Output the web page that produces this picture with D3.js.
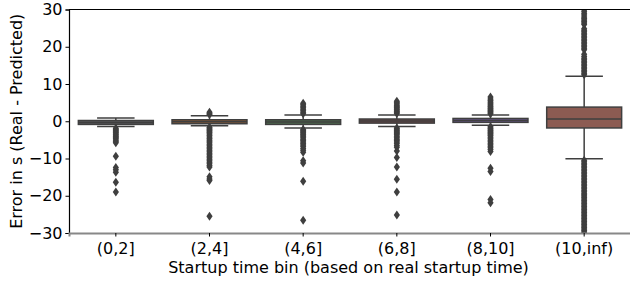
<!DOCTYPE html>
<html>
<head>
<meta charset="utf-8">
<script src="https://cdn.jsdelivr.net/npm/d3@7"></script>
<style>
  body { margin: 0; background: #fff; }
  svg text { font-family: "DejaVu Sans", sans-serif; fill: #000; }
</style>
</head>
<body>
<div id="chart"></div>
<script>
// chart size
var width = 630;
var height = 281;

// bins and box stats
var categories = ["(0,2]", "(2,4]", "(4,6]", "(6,8]", "(8,10]", "(10,inf)"];
var q1 = [-0.85, -0.67, -0.85, -0.5, -0.3, -1.8];
var medians = [-0.35, -0.13, -0.2, 0.05, 0.2, 0.6];
var q3 = [0.2, 0.4, 0.4, 0.6, 0.75, 3.8];
var whiskerLow = [-1.4, -1.2, -1.8, -1.4, -1.1, -10.1];
var whiskerHigh = [0.85, 1.5, 1.7, 1.7, 1.7, 12.1];
var boxColors = ["#5a5a5e", "#8a5a36", "#4d6b4d", "#6b4444", "#66558a", "#8c5b52"];

// outliers per bin
var fliers0 = [-1.9, -2.2, -2.5, -2.8, -3.1, -3.4, -3.7, -4.0, -4.3, -4.6, -5.0, -5.4, -5.8,
  -9.4, -12.4, -13.0, -13.7, -16.4, -19.0];
var fliers1 = [1.8, 2.1, 2.4, -1.6, -1.9, -2.2, -2.5, -2.8, -3.1, -3.4, -3.8, -4.2, -4.6, -5.0,
  -5.4, -5.8, -6.2, -6.6, -7.0, -7.4, -7.8, -8.2, -8.6, -9.0, -9.4, -9.8, -10.2, -10.6, -11.0,
  -11.4, -11.9, -12.3, -14.9, -15.5, -15.9, -25.5];
var fliers2 = [2.0, 2.4, 2.8, 3.2, 3.6, 4.0, 4.4, 4.8, -2.2, -2.5, -2.8, -3.1, -3.4, -3.7,
  -4.0, -4.4, -4.8, -5.2, -5.6, -6.0, -6.4, -6.8, -7.3, -7.8, -8.3, -10.6, -11.2, -16.1, -26.6];
var fliers3 = [2.1, 2.4, 2.7, 3.0, 3.3, 3.6, 3.9, 4.2, 4.6, 5.0, 5.4, -1.8, -2.1, -2.4, -2.7,
  -3.0, -3.3, -3.6, -4.0, -4.4, -4.8, -5.2, -5.6, -6.0, -6.5, -7.0, -8.0, -9.7, -12.3, -15.6,
  -19.0, -25.2];
var fliers4 = [2.0, 2.3, 2.6, 2.9, 3.2, 3.5, 3.8, 4.1, 4.4, 4.8, 5.2, 5.6, 6.0, 6.5, -1.5, -1.8,
  -2.1, -2.4, -2.7, -3.0, -3.3, -3.6, -3.9, -4.3, -4.7, -5.1, -5.5, -5.9, -6.3, -6.7, -7.1,
  -7.6, -8.1, -12.6, -13.5, -21.0, -21.9];
var fliers5 = [12.5, 12.9, 13.3, 13.7, 14.1, 14.5, 14.9, 15.3, 15.7, 16.1, 16.5, 16.9, 17.4,
  18.0, 19.2, 19.6, 20.0, 20.4, 20.8, 21.2, 21.6, 22.0, 22.4, 22.8, 23.2, 23.6, 24.0, 24.4,
  24.8, 26.0, 26.4, 26.8, 27.2, 27.6, 28.0, 28.5, 29.0, 29.5, 30.0, 30.5,
  -10.5, -10.9, -11.3, -11.7, -12.1, -12.5, -12.9, -13.3, -13.7, -14.1, -14.5, -14.9, -15.3,
  -15.7, -16.1, -16.5, -16.9, -17.3, -17.7, -18.1, -18.5, -18.9, -19.3, -19.7, -20.1, -20.5,
  -20.9, -21.3, -21.7, -22.1, -22.5, -22.9, -23.3, -23.7, -24.1, -24.5, -24.9, -25.3, -25.7,
  -26.1, -26.5, -26.9, -27.3, -27.7, -28.1, -28.5, -28.9, -29.3, -29.7, -30.1];
var fliers = [fliers0, fliers1, fliers2, fliers3, fliers4, fliers5];

var yTicks = [-30, -20, -10, 0, 10, 20, 30];

var margin = {left: 69, right: -1, top: 9.5, bottom: 48};
var edge = "#3f3f3f";
var fontSize = "16px";

var svg = d3.select("#chart")
  .append("svg")
  .attr("width", width)
  .attr("height", height);

var x = d3.scaleBand()
  .domain(categories)
  .range([margin.left, width - margin.right])
  .padding(0);

var y = d3.scaleLinear()
  .domain([-30, 30])
  .range([height - margin.bottom, margin.top]);

// clip so fliers beyond the limits get cut at the frame
svg.append("clipPath")
  .attr("id", "plotclip")
  .append("rect")
  .attr("x", margin.left)
  .attr("y", margin.top)
  .attr("width", width - margin.right - margin.left)
  .attr("height", y(-30) - margin.top);

var plot = svg.append("g").attr("clip-path", "url(#plotclip)");

var boxW = x.bandwidth() * 0.8;
var capW = boxW / 2;

var groups = plot.selectAll("g.box")
  .data(categories)
  .enter()
  .append("g")
  .attr("class", "box")
  .attr("transform", function(d) { return "translate(" + (x(d) + x.bandwidth() / 2) + ",0)"; });

// whiskers
groups.append("line")
  .attr("x1", 0).attr("x2", 0)
  .attr("y1", function(d, i) { return y(q3[i]); })
  .attr("y2", function(d, i) { return y(whiskerHigh[i]); })
  .attr("stroke", edge).attr("stroke-width", 1.5);
groups.append("line")
  .attr("x1", 0).attr("x2", 0)
  .attr("y1", function(d, i) { return y(q1[i]); })
  .attr("y2", function(d, i) { return y(whiskerLow[i]); })
  .attr("stroke", edge).attr("stroke-width", 1.5);

// caps
groups.append("line")
  .attr("x1", -capW / 2).attr("x2", capW / 2)
  .attr("y1", function(d, i) { return y(whiskerHigh[i]); })
  .attr("y2", function(d, i) { return y(whiskerHigh[i]); })
  .attr("stroke", edge).attr("stroke-width", 1.5);
groups.append("line")
  .attr("x1", -capW / 2).attr("x2", capW / 2)
  .attr("y1", function(d, i) { return y(whiskerLow[i]); })
  .attr("y2", function(d, i) { return y(whiskerLow[i]); })
  .attr("stroke", edge).attr("stroke-width", 1.5);

// boxes
groups.append("rect")
  .attr("x", -boxW / 2)
  .attr("width", boxW)
  .attr("y", function(d, i) { return y(q3[i]); })
  .attr("height", function(d, i) { return y(q1[i]) - y(q3[i]); })
  .attr("fill", function(d, i) { return boxColors[i]; })
  .attr("stroke", edge).attr("stroke-width", 1.5);

// medians
groups.append("line")
  .attr("x1", -boxW / 2).attr("x2", boxW / 2)
  .attr("y1", function(d, i) { return y(medians[i]); })
  .attr("y2", function(d, i) { return y(medians[i]); })
  .attr("stroke", edge).attr("stroke-width", 1.5);

// fliers as thin diamonds
var diamond = "M0,-4.5L3.1,0L0,4.5L-3.1,0Z";
groups.each(function(d, i) {
  d3.select(this).selectAll("path.flier")
    .data(fliers[i])
    .enter()
    .append("path")
    .attr("class", "flier")
    .attr("d", diamond)
    .attr("transform", function(v) { return "translate(0," + y(v) + ")"; })
    .attr("fill", edge);
});

// axes
var fmt = function(v) { return String(v).replace("-", "\u2212"); };

var yAxis = svg.append("g")
  .attr("transform", "translate(" + margin.left + ",0)")
  .call(d3.axisLeft(y).tickValues(yTicks).tickFormat(fmt).tickSize(3.5).tickPadding(3));
yAxis.select(".domain").attr("stroke", "#000").attr("stroke-width", 1.2);
yAxis.selectAll(".tick line").attr("stroke", "#000").attr("stroke-width", 1);
yAxis.selectAll(".tick text").style("font-size", fontSize).style("font-family", "DejaVu Sans");

var xAxis = svg.append("g")
  .attr("transform", "translate(0," + y(-30) + ")")
  .call(d3.axisBottom(x).tickSize(3.5).tickPadding(6));
xAxis.select(".domain").attr("stroke", "#888").attr("stroke-width", 2);
xAxis.selectAll(".tick line").attr("stroke", "#000").attr("stroke-width", 1);
xAxis.selectAll(".tick text").style("font-size", fontSize).style("font-family", "DejaVu Sans");

// top spine
svg.append("line")
  .attr("x1", margin.left).attr("x2", width)
  .attr("y1", y(30)).attr("y2", y(30))
  .attr("stroke", "#000").attr("stroke-width", 1.2);

// axis labels
svg.append("text")
  .attr("x", (margin.left + width) / 2 - 1)
  .attr("y", 273)
  .attr("text-anchor", "middle")
  .style("font-size", fontSize)
  .text("Startup time bin (based on real startup time)");

svg.append("text")
  .attr("transform", "translate(22," + y(0) + ") rotate(-90)")
  .attr("text-anchor", "middle")
  .style("font-size", fontSize)
  .text("Error in s (Real - Predicted)");
</script>
</body>
</html>
